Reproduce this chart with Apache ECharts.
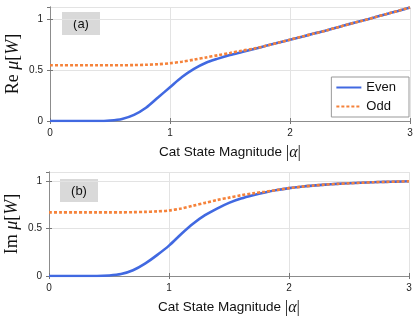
<!DOCTYPE html>
<html>
<head>
<meta charset="utf-8">
<script src="https://cdn.jsdelivr.net/npm/echarts@6/dist/echarts.min.js"></script>
<style>
  html, body { margin: 0; padding: 0; background: #fff; }
  #main { width: 415px; height: 325px; }
</style>
</head>
<body>
<div id="main"></div>
<script>
// x 取值 (|alpha|)
var alphaVals = [0, 0.1, 0.2, 0.3, 0.4, 0.5, 0.6, 0.7, 0.8, 0.9, 1.0,
  1.1, 1.2, 1.3, 1.4, 1.5, 1.6, 1.7, 1.8, 1.9, 2.0,
  2.1, 2.2, 2.3, 2.4, 2.5, 2.6, 2.7, 2.8, 2.9, 3.0]
// (a) Re mu[W]
var reEven = [0, 0, 0, 0, 0, 0.005, 0.02, 0.06, 0.13, 0.23, 0.33,
  0.43, 0.51, 0.57, 0.61, 0.645, 0.675, 0.705, 0.735, 0.765, 0.795,
  0.825, 0.855, 0.885, 0.918, 0.95, 0.98, 1.012, 1.045, 1.077, 1.11]
var reOdd = [0.545, 0.545, 0.545, 0.545, 0.545, 0.545, 0.545, 0.547, 0.55, 0.555, 0.565,
  0.58, 0.6, 0.622, 0.643, 0.665, 0.688, 0.708, 0.735, 0.765, 0.795,
  0.825, 0.855, 0.885, 0.918, 0.95, 0.98, 1.012, 1.045, 1.077, 1.11]
// (b) Im mu[W]
var imEven = [0, 0, 0, 0, 0, 0.005, 0.02, 0.06, 0.13, 0.22, 0.32,
  0.44, 0.55, 0.64, 0.71, 0.77, 0.815, 0.85, 0.88, 0.905, 0.925,
  0.94, 0.952, 0.962, 0.97, 0.976, 0.982, 0.987, 0.991, 0.994, 0.997]
var imOdd = [0.67, 0.67, 0.67, 0.67, 0.67, 0.67, 0.67, 0.672, 0.675, 0.68, 0.69,
  0.71, 0.74, 0.77, 0.8, 0.825, 0.85, 0.87, 0.887, 0.905, 0.925,
  0.94, 0.952, 0.962, 0.97, 0.976, 0.982, 0.987, 0.991, 0.994, 0.997]
var xTicks = [0, 1, 2, 3]
var yTicks = [0, 0.5, 1]

var blue = '#4169e1'
var orange = '#f5823a'
var sansFont = 'Liberation Sans'
var serifFont = 'Liberation Serif'

function pairs(ys) {
  return alphaVals.map(function (x, i) { return [x, ys[i]] })
}

var chart = echarts.init(document.getElementById('main'), null, { renderer: 'canvas' })

function mainX(gi) {
  return {
    type: 'value', gridIndex: gi, min: xTicks[0], max: xTicks[xTicks.length - 1], interval: 1,
    name: '{t|Cat State Magnitude }{m||}{a|α}{m||}',
    nameLocation: 'middle', nameGap: 23, nameMoveOverlap: false,
    nameTextStyle: {
      rich: {
        t: { fontFamily: sansFont, fontSize: 13.5, color: '#111' },
        m: { fontFamily: serifFont, fontSize: 17, color: '#111' },
        a: { fontFamily: serifFont, fontStyle: 'italic', fontSize: 16, color: '#111' }
      }
    },
    axisLine: { show: true, onZero: false, lineStyle: { color: '#8c8c8c', width: 1 } },
    axisTick: { show: true, inside: true, length: 3, lineStyle: { color: '#777' } },
    axisLabel: { fontFamily: sansFont, fontSize: 10, color: '#222', margin: 7 },
    splitLine: { show: true, lineStyle: { color: '#e3e3e3', width: 1 } }
  }
}
function topX(gi) {
  return {
    type: 'value', gridIndex: gi, position: 'top', min: 0, max: 3, interval: 1,
    axisLine: { show: true, lineStyle: { color: '#8c8c8c', width: 1 } },
    axisTick: { show: true, inside: true, length: 3, lineStyle: { color: '#777' } },
    axisLabel: { show: false }, splitLine: { show: false }
  }
}
function mainY(gi, max, nameRich) {
  return {
    type: 'value', gridIndex: gi, min: 0, max: max, interval: 0.5,
    name: nameRich, nameLocation: 'middle', nameGap: 28, nameRotate: 90, nameMoveOverlap: false,
    nameTextStyle: {
      rich: {
        r: { fontFamily: serifFont, fontSize: 18, color: '#111' },
        i: { fontFamily: serifFont, fontStyle: 'italic', fontSize: 18, color: '#111' }
      }
    },
    axisLine: { show: true, lineStyle: { color: '#8c8c8c', width: 1 } },
    axisTick: { show: true, inside: true, length: 3, lineStyle: { color: '#777' } },
    axisLabel: {
      fontFamily: sansFont, fontSize: 10, color: '#222', margin: 7, showMaxLabel: false,
      formatter: function (v) { return yTicks.indexOf(v) >= 0 ? String(v) : '' }
    },
    splitLine: { show: true, lineStyle: { color: '#e3e3e3', width: 1 } }
  }
}
function rightY(gi, max) {
  return {
    type: 'value', gridIndex: gi, position: 'right', min: 0, max: max, interval: 0.5,
    axisLine: { show: true, lineStyle: { color: '#8c8c8c', width: 1 } },
    axisTick: { show: true, inside: true, length: 3, lineStyle: { color: '#777' } },
    axisLabel: { show: false }, splitLine: { show: false }
  }
}
function evenSeries(xi, yi, ys) {
  return {
    name: 'Even', type: 'line', xAxisIndex: xi, yAxisIndex: yi, data: pairs(ys),
    symbol: 'none', smooth: 0.3, z: 3,
    lineStyle: { color: blue, width: 2.6 }, itemStyle: { color: blue }
  }
}
function oddSeries(xi, yi, ys) {
  return {
    name: 'Odd', type: 'line', xAxisIndex: xi, yAxisIndex: yi, data: pairs(ys),
    symbol: 'none', smooth: 0.3, z: 4,
    lineStyle: { color: orange, width: 2.6, type: [3, 2] }, itemStyle: { color: orange }
  }
}
function tagBox(x, y, txt) {
  return {
    type: 'group', left: x, top: y, z: 10,
    children: [
      { type: 'rect', shape: { x: 0, y: 0, width: 38, height: 23 }, style: { fill: '#d9d9d9' } },
      { type: 'text', x: 19, y: 12, style: { text: txt, fontFamily: sansFont, fontSize: 13, fill: '#111', align: 'center', verticalAlign: 'middle' } }
    ]
  }
}

var option = {
  backgroundColor: '#fff',
  animation: false,
  grid: [
    { left: 50, width: 360, top: 7, height: 114, outerBoundsMode: 'none' },
    { left: 49, width: 360, top: 172, height: 104, outerBoundsMode: 'none' }
  ],
  xAxis: [mainX(0), mainX(1), topX(0), topX(1)],
  yAxis: [
    mainY(0, 1.115, '{r|Re }{i|μ}{r|[}{i|W}{r|]}'),
    mainY(1, 1.095, '{r|Im }{i|μ}{r|[}{i|W}{r|]}'),
    rightY(0, 1.115), rightY(1, 1.095)
  ],
  legend: {
    right: 6, top: 77, orient: 'vertical', itemWidth: 25, itemHeight: 10, itemGap: 6,
    padding: [4, 13, 4, 4],
    backgroundColor: '#fff', borderColor: '#999', borderWidth: 1, borderRadius: 0,
    itemStyle: { opacity: 0 },
    textStyle: { fontFamily: sansFont, fontSize: 13, color: '#111' },
    data: ['Even', 'Odd']
  },
  series: [
    evenSeries(0, 0, reEven), oddSeries(0, 0, reOdd),
    evenSeries(1, 1, imEven), oddSeries(1, 1, imOdd)
  ],
  graphic: [tagBox(62, 12, '(a)'), tagBox(60, 179, '(b)')]
}
chart.setOption(option)
</script>
</body>
</html>
